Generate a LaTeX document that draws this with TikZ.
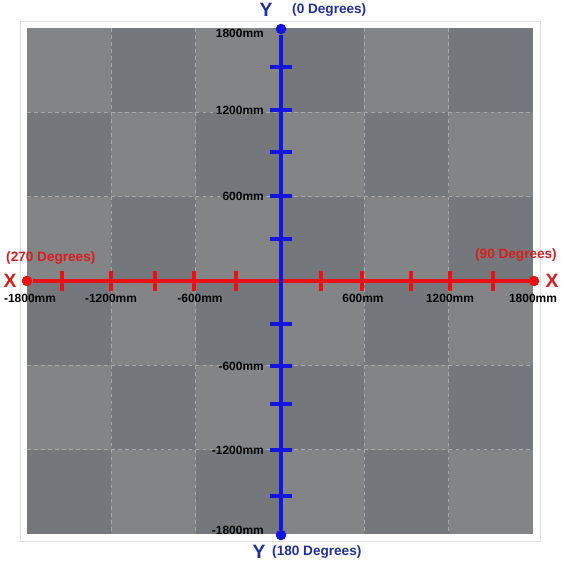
\documentclass[tikz,border=0pt]{standalone}
\usepackage{fontspec}
\setmainfont{Liberation Sans}
\usepackage{xcolor}
\definecolor{tileLight}{HTML}{838485}
\definecolor{tileDark}{HTML}{74787C}
\definecolor{tileEdge}{HTML}{A6A8AA}
\definecolor{axisRed}{HTML}{E81212}
\definecolor{axisBlue}{HTML}{1414E0}
\definecolor{labRed}{HTML}{D61E1E}
\definecolor{labBlue}{HTML}{1E2EA0}

\begin{document}
\begin{tikzpicture}[
    x=0.03cm, y=-0.03cm,
    axisx/.style={draw=axisRed, line width=3.8pt},
    axisy/.style={draw=axisBlue, line width=3.8pt},
    tickx/.style={draw=axisRed, line width=2.6pt},
    ticky/.style={draw=axisBlue, line width=2.6pt},
    enddot/.style={circle, inner sep=0pt, minimum size=9pt},
    mm/.style={font=\bfseries\fontsize{10.2}{12}\selectfont, text=black, inner sep=0pt},
    deg/.style={font=\bfseries\fontsize{11.6}{13}\selectfont, inner sep=0pt},
    axisname/.style={font=\bfseries\fontsize{16.5}{18}\selectfont, inner sep=0pt}
  ]
    \useasboundingbox (0,0) rectangle (565,566);
    \draw[black!12, line width=0.6pt] (20,21) rectangle (540,541);
    \foreach \i in {0,...,5}{
      \foreach \j in {0,...,5}{
        \pgfmathtruncatemacro\tileparity{mod(\i+\j,2)}
        \ifnum\tileparity=0 \def\tilecol{tileLight}\else\def\tilecol{tileDark}\fi
        \fill[\tilecol] (27+84.33*\i,28+84.33*\j) rectangle +(84.33,84.33);
      }
    }
    \foreach \k in {1,...,5}{
      \draw[tileEdge, dashed, line width=0.9pt] (27+84.33*\k,28) -- +(0,506);
      \draw[tileEdge, dashed, line width=0.9pt] (27,28+84.33*\k) -- +(506,0);
    }

    \node[enddot, fill=axisRed] (xw) at (27,281) {};
    \node[enddot, fill=axisRed] (xe) at (534,281) {};
    \node[enddot, fill=axisBlue] (yn) at (281,29) {};
    \node[enddot, fill=axisBlue] (ys) at (281,535) {};

    \foreach \t in {62,111,155,194,236,321,362,411,450,493}
      \draw[tickx] (\t,271) -- (\t,291);
    \foreach \t in {67,110,152,196,239,324,366,404,450,496}
      \draw[ticky] (270,\t) -- (292,\t);

    \draw[axisx] (xw) -- (xe);
    \draw[axisy] (yn) -- (ys);

    \node[axisname, text=labBlue] (ynname) at (266,10) {Y};
    \node[deg, text=labBlue, anchor=west] (yndeg) at (292,10) {(0 Degrees)};
    \node[axisname, text=labBlue] (ysname) at (259,552) {Y};
    \node[deg, text=labBlue, anchor=west] (ysdeg) at (272,552) {(180 Degrees)};
    \node[axisname, text=labRed] (xwname) at (10,281) {X};
    \node[deg, text=labRed, anchor=west] (xwdeg) at (6,258) {(270 Degrees)};
    \node[axisname, text=labRed] (xename) at (552,281) {X};
    \node[deg, text=labRed, anchor=east] (xedeg) at (557,255) {(90 Degrees)};

    \node[mm, anchor=east] (y1800) at (264,33) {1800mm};
    \node[mm, anchor=east] (y1200) at (264,110) {1200mm};
    \node[mm, anchor=east] (y600) at (264,196) {600mm};
    \node[mm, anchor=east] (ym600) at (264,366) {-600mm};
    \node[mm, anchor=east] (ym1200) at (264,450) {-1200mm};
    \node[mm, anchor=east] (ym1800) at (264,530) {-1800mm};

    \node[mm] (xm1800) at (30,298) {-1800mm};
    \node[mm] (xm1200) at (111,298) {-1200mm};
    \node[mm] (xm600) at (200,298) {-600mm};
    \node[mm] (x600) at (363,298) {600mm};
    \node[mm] (x1200) at (450,298) {1200mm};
    \node[mm] (x1800) at (533,298) {1800mm};
  \end{tikzpicture}
\end{document}
